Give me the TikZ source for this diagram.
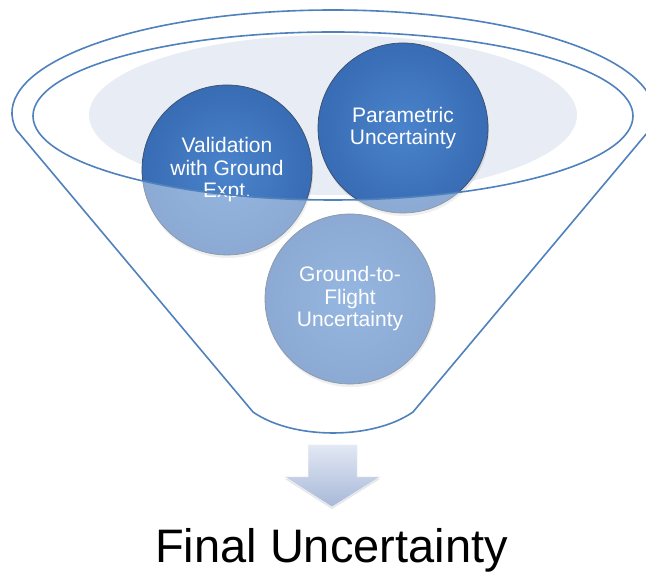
\documentclass[tikz,border=0pt]{standalone}
\usepackage{fontspec}
\setmainfont{Liberation Sans}
\usetikzlibrary{shadows}
\definecolor{funnelblue}{HTML}{4F81BD}
\definecolor{rimgray}{HTML}{E8ECF4}
\definecolor{ballin}{HTML}{4A84CC}
\definecolor{ballout}{HTML}{386CB4}
\definecolor{ballrim}{HTML}{3A4E6A}
\definecolor{arrowtop}{HTML}{E2E8F4}
\definecolor{arrowbot}{HTML}{A7B8D8}
\tikzset{
  ball/.style={circle, minimum size=170pt, inner sep=0pt,
    inner color=ballin, outer color=ballout, draw=ballrim, line width=0.7pt,
    drop shadow={opacity=0.22, shadow xshift=1pt, shadow yshift=-3pt},
    text=white, align=center,
    font=\fontsize{21pt}{22.5pt}\selectfont},
  funnelline/.style={draw=funnelblue, line width=1.6pt, line join=round},
}
\begin{document}
\begin{tikzpicture}[x=1pt,y=1pt]
\useasboundingbox (0,0) rectangle (646,575);
% light rim fill
\fill[rimgray] (333,460) ellipse [x radius=244pt, y radius=80pt];
% balls
\node[ball] (val) at (227,405) {Validation\\with Ground\\Expt.};
\node[ball] (par) at (403,447) {Parametric\\Uncertainty};
\node[ball] (gtf) at (350,276) {Ground-to-\\Flight\\Uncertainty};
% translucent funnel body (outside the rim)
\fill[white, fill opacity=0.42, even odd rule]
  (16.4,445) arc[start angle=189.5, end angle=-9.5, x radius=321pt, y radius=103pt]
  -- (413,163) .. controls (373,135) and (293,135) .. (253,163) -- cycle
  (333,459) ellipse [x radius=300pt, y radius=84pt];
% funnel outline
\draw[funnelline]
  (16.4,445) arc[start angle=189.5, end angle=-9.5, x radius=321pt, y radius=103pt]
  -- (413,163) .. controls (373,135) and (293,135) .. (253,163) -- cycle;
\draw[funnelline] (333,459) ellipse [x radius=300pt, y radius=84pt];
% down arrow
\shade[top color=arrowtop, bottom color=arrowbot, draw=white!85!arrowbot, line width=0.5pt,
  drop shadow={opacity=0.2, shadow xshift=0pt, shadow yshift=-2pt}]
  (308,130) -- (357,130) -- (357,98) -- (380,98) -- (332,68) -- (285,98) -- (308,98) -- cycle;
% caption
\node[font=\fontsize{47pt}{50pt}\selectfont, anchor=base] (final) at (331.5,12) {Final Uncertainty};
\end{tikzpicture}
\end{document}
